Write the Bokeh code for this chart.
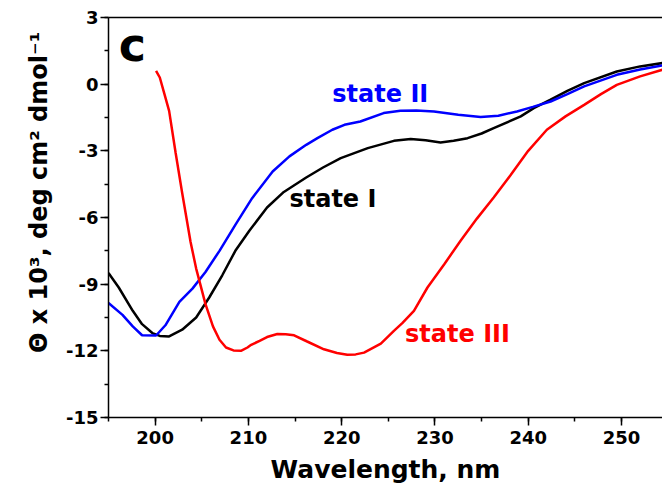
from bokeh.plotting import figure
from bokeh.models import Range1d, SingleIntervalTicker, FixedTicker, LinearAxis, Label
from bokeh.embed import file_html
from bokeh.resources import INLINE

# Far-UV CD spectra of the three states (mean residue ellipticity, x 10^3)
wl_state1 = [195.0, 196.1, 197.6, 198.6, 199.7, 200.5, 201.5, 202.9, 204.4, 205.8,
             207.2, 208.6, 210.1, 212.0, 213.8, 216.2, 218.0, 219.9, 222.8, 225.6,
             227.4, 229.0, 230.6, 232.0, 233.5, 235.0, 236.3, 239.2, 240.6, 242.4,
             244.2, 246.0, 249.5, 252.0, 254.4]
cd_state1 = [-8.5, -9.15, -10.2, -10.8, -11.2, -11.33, -11.35, -11.05, -10.5, -9.6,
             -8.6, -7.5, -6.6, -5.55, -4.85, -4.2, -3.75, -3.33, -2.88, -2.55,
             -2.47, -2.52, -2.62, -2.55, -2.43, -2.22, -1.98, -1.45, -1.08, -0.70,
             -0.3, 0.05, 0.57, 0.80, 0.95]

wl_state2 = [195.0, 196.5, 197.6, 198.6, 200.1, 201.1, 202.6, 204.0, 205.4, 206.9,
             208.6, 210.4, 212.6, 214.4, 216.2, 217.4, 219.0, 220.3, 222.0, 224.5,
             226.3, 228.0, 229.9, 232.5, 234.9, 236.8, 238.8, 240.5, 242.4, 244.2,
             246.0, 249.5, 252.0, 254.4]
cd_state2 = [-9.85, -10.38, -10.9, -11.3, -11.31, -10.85, -9.8, -9.2, -8.45, -7.5,
             -6.33, -5.13, -3.93, -3.25, -2.73, -2.43, -2.05, -1.83, -1.68, -1.3,
             -1.2, -1.18, -1.23, -1.38, -1.48, -1.42, -1.23, -1.02, -0.78, -0.45,
             -0.1, 0.42, 0.66, 0.84]

wl_state3 = [200.1, 200.5, 201.0, 201.5, 202.2, 202.9, 203.8, 204.4, 205.4, 206.2,
             206.9, 207.6, 208.4, 209.2, 209.9, 210.3, 211.2, 212.0, 213.1, 214.0,
             214.9, 216.3, 218.1, 219.5, 220.6, 221.5, 222.4, 224.2, 225.6, 226.5,
             227.75, 229.2, 231.0, 232.75, 234.5, 236.3, 238.1, 240.0, 242.0, 244.0,
             246.0, 247.8, 249.5, 252.0, 254.4]
cd_state3 = [0.6, 0.3, -0.45, -1.2, -3.1, -4.9, -7.1, -8.3, -9.9, -10.9,
             -11.5, -11.85, -11.98, -12.0, -11.85, -11.73, -11.55, -11.38, -11.24, -11.25,
             -11.3, -11.58, -11.93, -12.1, -12.18, -12.16, -12.08, -11.68, -11.1, -10.75,
             -10.2, -9.15, -8.1, -7.05, -6.05, -5.1, -4.1, -3.0, -2.05, -1.45,
             -0.93, -0.45, -0.03, 0.35, 0.65]

y_ticks = [-15, -12, -9, -6, -3, 0, 3]
x_ticks = [200, 210, 220, 230, 240, 250]

FONT = "DejaVu Sans"

p = figure(width=662, height=489,
           x_range=Range1d(195, 254.4), y_range=Range1d(-15, 3),
           output_backend="svg", toolbar_location=None,
           min_border_left=108, min_border_right=0,
           min_border_top=17, min_border_bottom=72)
p.background_fill_color = "white"
p.border_fill_color = "white"
p.outline_line_color = None
p.grid.visible = False

p.xaxis.ticker = SingleIntervalTicker(interval=10, num_minor_ticks=2)
p.yaxis.ticker = SingleIntervalTicker(interval=3, num_minor_ticks=2)
# plain hyphen for negative tick labels
p.yaxis.major_label_overrides = {t: str(t) for t in y_ticks}
p.xaxis.major_label_overrides = {t: str(t) for t in x_ticks}

for ax in (p.xaxis[0], p.yaxis[0]):
    ax.axis_line_width = 1.5
    ax.major_tick_line_width = 1.5
    ax.minor_tick_line_width = 1.5
    ax.major_tick_in = 0
    ax.major_tick_out = 8
    ax.minor_tick_in = 0
    ax.minor_tick_out = 4
    ax.major_label_text_font = FONT
    ax.major_label_text_font_style = "bold"
    ax.major_label_text_font_size = "18px"
    ax.major_label_text_color = "black"
    ax.axis_label_text_font = FONT
    ax.axis_label_text_font_style = "bold"
    ax.axis_label_text_color = "black"

p.yaxis.major_label_standoff = 2
p.xaxis.major_label_standoff = 5

p.xaxis.axis_label = "Wavelength, nm"
p.xaxis.axis_label_text_font_size = "25px"
p.xaxis.axis_label_standoff = 8

# leading no-break spaces lift the label centre along the axis
p.yaxis.axis_label = ("\u00a0" * 6 +
                      "\u0398 x 10\u00b3, deg cm\u00b2 dmol\u207b\u00b9")
p.yaxis.axis_label_text_font_size = "24px"
p.yaxis.axis_label_standoff = 10

# plain top frame line
top_axis = LinearAxis(ticker=FixedTicker(ticks=[]), axis_line_width=1.5,
                      major_label_text_font_size="0px")
p.add_layout(top_axis, "above")

p.line(wl_state1, cd_state1, line_color="black", line_width=2.5)
p.line(wl_state2, cd_state2, line_color="#0000ff", line_width=2.5)
p.line(wl_state3, cd_state3, line_color="#ff0000", line_width=2.5)

def note(x, y, text, color, size):
    p.add_layout(Label(x=x, y=y, text=text, text_color=color,
                       text_font=FONT, text_font_style="bold",
                       text_font_size=size, text_baseline="alphabetic",
                       text_align="left"))

note(219.0, -0.45, "state II", "#0000ff", "24px")
note(214.4, -5.18, "state I", "black", "24px")
note(226.8, -11.25, "state III", "#ff0000", "24px")
note(196.1, 1.77, "c", "black", "46px")

open("out.html", "w").write(file_html(p, INLINE))
